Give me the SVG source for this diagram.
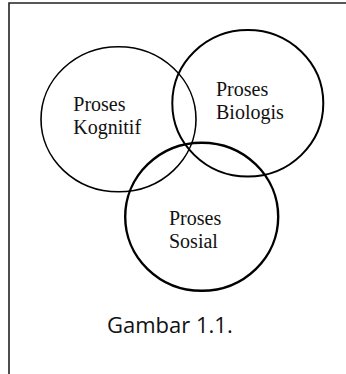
<svg xmlns="http://www.w3.org/2000/svg" width="346" height="374" viewBox="0 0 346 374">
<style>
.lbl{font-family:"Liberation Serif","Times New Roman",serif;font-size:20px;fill:#111}
.cap{font-family:"Open Sans","Noto Sans",sans-serif;font-size:22px;fill:#111}
.c{fill:none;stroke:#000}
</style>
<rect width="346" height="374" fill="#fff"/>
<path d="M9,374 V3 H346" fill="none" stroke="#222" stroke-width="1.6"/>
<g id="kognitif">
<ellipse class="c" cx="118.5" cy="119.3" rx="77.5" ry="72.5" stroke-width="1.6"/>
<text class="lbl" x="73.3" y="110.7">Proses</text>
<text class="lbl" x="73.3" y="133.5">Kognitif</text>
</g>
<g id="biologis">
<ellipse class="c" cx="247.8" cy="103.3" rx="75.5" ry="73.3" stroke-width="2"/>
<text class="lbl" x="216" y="96">Proses</text>
<text class="lbl" x="216" y="118.5">Biologis</text>
</g>
<g id="sosial">
<ellipse class="c" cx="201.7" cy="216.7" rx="76.5" ry="74" stroke-width="2.4"/>
<text class="lbl" x="169" y="225">Proses</text>
<text class="lbl" x="169" y="248">Sosial</text>
</g>
<g id="connectors"></g>
<text class="cap" x="107" y="333">Gambar 1.1.</text>
</svg>
